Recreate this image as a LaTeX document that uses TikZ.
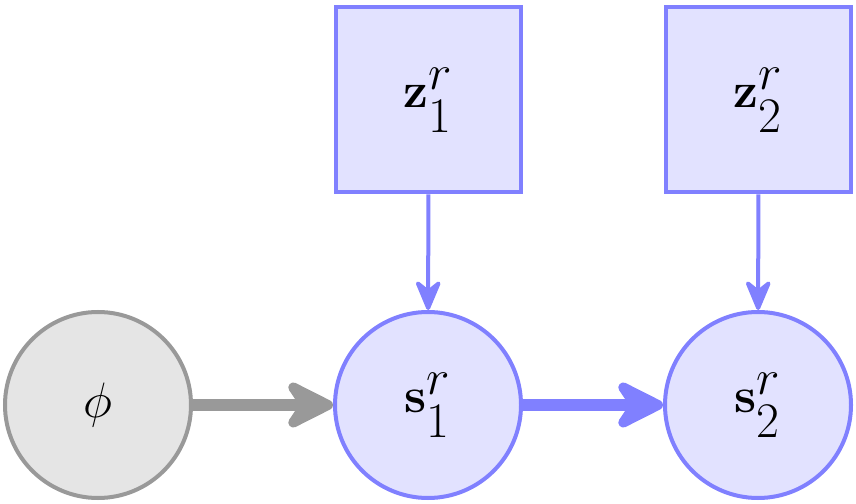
\documentclass[tikz,border=0pt]{standalone}
\usepackage{amsmath, amssymb}
\usepackage{tikz}
\definecolor{latentblue}{RGB}{128, 128, 255}
\definecolor{latentfill}{RGB}{226, 226, 255}
\definecolor{fixgray}{RGB}{153, 153, 153}
\definecolor{fixfill}{RGB}{229, 229, 229}
\usetikzlibrary{arrows.meta}

\begin{document}
\begin{tikzpicture}[x=0.5pt, y=0.5pt,
		state/.style={circle, draw=latentblue, fill=latentfill, line width=2pt, minimum size=93pt, inner sep=0pt},
		given/.style={circle, draw=fixgray, fill=fixfill, line width=2pt, minimum size=93pt, inner sep=0pt},
		noise/.style={rectangle, draw=latentblue, fill=latentfill, line width=2pt, minimum size=92.5pt, inner sep=0pt},
		bigarrow/.style={line width=6pt, -{Stealth[round, length=30pt, width=30pt, inset=10pt]}},
		smallarrow/.style={latentblue, line width=2pt, -{Stealth[round, length=18pt, width=15pt, inset=6pt]}},
		font=\fontsize{34}{40}\selectfont]
		% Rahmen
		\useasboundingbox (0,0) rectangle (856,503);
		% Knoten
		\node[given] (phi) at (98,98) {$\phi$};
		\node[state] (s1) at (428,98) {$\mathbf{s}_1^r$};
		\node[state] (s2) at (758,98) {$\mathbf{s}_2^r$};
		\node[noise] (z1) at (428.5,403) {$\mathbf{z}_1^r$};
		\node[noise] (z2) at (758.5,403) {$\mathbf{z}_2^r$};
		% Kanten
		\draw[bigarrow, fixgray] (phi) -- (s1);
		\draw[bigarrow, latentblue] (s1) -- (s2);
		\draw[smallarrow] (z1) -- (s1);
		\draw[smallarrow] (z2) -- (s2);
	\end{tikzpicture}
\end{document}
